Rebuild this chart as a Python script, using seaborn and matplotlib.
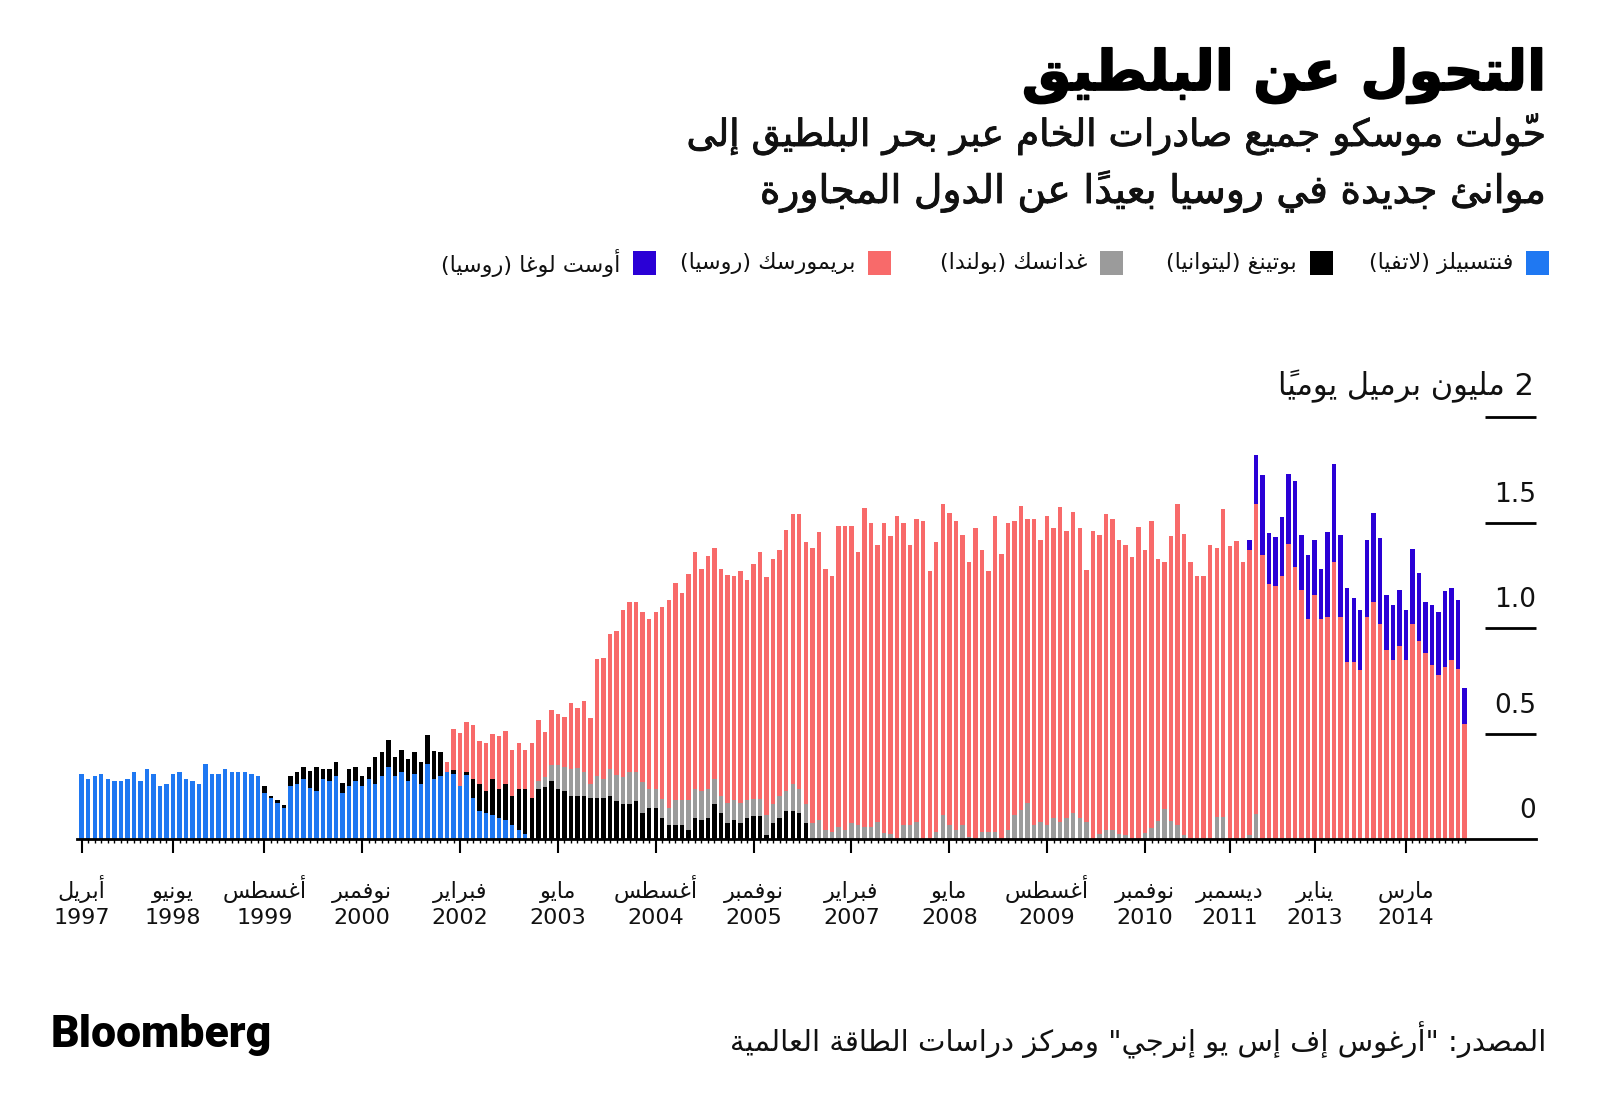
import numpy as np
import pandas as pd
import matplotlib
matplotlib.use("Agg")
import matplotlib.pyplot as plt
import matplotlib.patheffects as pe
from matplotlib.patches import Rectangle
from matplotlib.transforms import blended_transform_factory
import seaborn as sns

# ---------------- DATA (million barrels per day, monthly Apr 1997 - Dec 2014) ----------------
ventspils = [
    0.310, 0.288, 0.298, 0.310, 0.288, 0.276, 0.276, 0.288, 0.321, 0.276,
    0.333, 0.310, 0.252, 0.264, 0.310, 0.321, 0.288, 0.276, 0.264, 0.355,
    0.310, 0.310, 0.333, 0.321, 0.321, 0.321, 0.310, 0.298, 0.219, 0.196,
    0.173, 0.149, 0.252, 0.264, 0.287, 0.241, 0.230, 0.287, 0.276, 0.298,
    0.219, 0.252, 0.276, 0.252, 0.287, 0.264, 0.298, 0.344, 0.298, 0.321,
    0.276, 0.310, 0.264, 0.358, 0.285, 0.298, 0.318, 0.309, 0.252, 0.307,
    0.195, 0.136, 0.125, 0.114, 0.103, 0.092, 0.070, 0.046, 0.024,
] + [0.0] * 144

butinge = [0.0] * 28 + [
    0.033, 0.011, 0.011, 0.013, 0.046, 0.057, 0.057, 0.081, 0.114, 0.046, 0.057, 0.070,
    0.046, 0.081, 0.068, 0.046, 0.057, 0.125, 0.116, 0.127, 0.092, 0.103,
    0.103, 0.103, 0.103, 0.135, 0.135, 0.114, 0.000, 0.020, 0.000, 0.010,
    0.090, 0.125, 0.103, 0.171, 0.136, 0.169, 0.136, 0.193, 0.215, 0.195,
    0.239, 0.250, 0.274, 0.239, 0.228, 0.206, 0.206, 0.206, 0.195, 0.195,
    0.195, 0.204, 0.181, 0.169, 0.169, 0.181, 0.124, 0.147, 0.147, 0.101,
    0.067, 0.067, 0.067, 0.044, 0.101, 0.090, 0.101, 0.169, 0.124, 0.079,
    0.090, 0.079, 0.101, 0.112, 0.112, 0.022, 0.079, 0.101, 0.136, 0.136,
    0.124, 0.078,
] + [0.0] * 101

gdansk = [0.0] * 70 + [
    0.035, 0.046, 0.079, 0.114, 0.114, 0.125, 0.133, 0.112, 0.068, 0.103,
    0.090, 0.130, 0.126, 0.126, 0.149, 0.137, 0.148, 0.092, 0.092, 0.092,
    0.080, 0.117, 0.117, 0.140, 0.138, 0.138, 0.138, 0.118, 0.079, 0.092,
    0.094, 0.092, 0.083, 0.080, 0.081, 0.092, 0.089, 0.103, 0.092, 0.125,
    0.115, 0.091, 0.078, 0.090, 0.046, 0.035, 0.059, 0.046, 0.078, 0.068,
    0.059, 0.059, 0.082, 0.030, 0.024, 0.000, 0.070, 0.070, 0.081, 0.000,
    0.000, 0.035, 0.114, 0.070, 0.046, 0.070, 0.011, 0.000, 0.035, 0.035,
    0.035, 0.000, 0.046, 0.114, 0.138, 0.173, 0.070, 0.081, 0.070, 0.103,
    0.081, 0.103, 0.125, 0.103, 0.081, 0.000, 0.027, 0.046, 0.046, 0.027,
    0.019, 0.000, 0.000, 0.029, 0.052, 0.089, 0.144, 0.089, 0.068, 0.021,
    0.000, 0.000, 0.000, 0.000, 0.108, 0.108, 0.000, 0.000, 0.000, 0.021,
    0.120,
] + [0.0] * 32

primorsk = [0.0] * 56 + [
    0.048, 0.195, 0.252, 0.237,
    0.258, 0.203, 0.228, 0.212, 0.252, 0.252, 0.217, 0.217, 0.182, 0.261,
    0.293, 0.212, 0.260, 0.239, 0.239, 0.315, 0.285, 0.339, 0.313, 0.556,
    0.572, 0.640, 0.678, 0.793, 0.805, 0.805, 0.805, 0.803, 0.838, 0.906,
    0.987, 1.029, 0.985, 1.075, 1.124, 1.053, 1.104, 1.093, 1.078, 1.082,
    1.064, 1.101, 1.043, 1.113, 1.167, 1.129, 1.159, 1.169, 1.237, 1.283,
    1.305, 1.240, 1.303, 1.365, 1.235, 1.214, 1.428, 1.441, 1.409, 1.295,
    1.509, 1.441, 1.315, 1.470, 1.415, 1.531, 1.430, 1.327, 1.439, 1.508,
    1.273, 1.374, 1.474, 1.476, 1.463, 1.371, 1.305, 1.476, 1.338, 1.235,
    1.498, 1.351, 1.452, 1.395, 1.442, 1.347, 1.450, 1.338, 1.463, 1.373,
    1.496, 1.360, 1.428, 1.373, 1.197, 1.463, 1.414, 1.498, 1.474, 1.393,
    1.378, 1.336, 1.482, 1.344, 1.457, 1.238, 1.172, 1.349, 1.520, 1.425,
    1.316, 1.249, 1.249, 1.395, 1.273, 1.457, 1.392, 1.416, 1.316, 1.349,
    1.470, 1.346, 1.210, 1.200, 1.248, 1.398, 1.292, 1.181, 1.042, 1.159,
    1.042, 1.055, 1.316, 1.053, 0.838, 0.838, 0.803, 1.055, 1.123, 1.021,
    0.895, 0.849, 0.917, 0.849, 1.021, 0.939, 0.884, 0.827, 0.779, 0.816,
    0.849, 0.808, 0.545,
]

ust_luga = [0.0] * 179 + [
    0.047, 0.233, 0.382, 0.241, 0.233, 0.280, 0.333, 0.407, 0.262, 0.304, 0.260,
    0.239, 0.403, 0.461, 0.390, 0.351, 0.304, 0.285, 0.364, 0.423, 0.409,
    0.263, 0.263, 0.263, 0.239, 0.353, 0.321, 0.239, 0.285, 0.298, 0.362,
    0.342, 0.324, 0.172,
]

tick_idx = [0, 14, 28, 43, 58, 73, 88, 103, 118, 133, 148, 163, 176, 189, 203]
tick_months = ["أبريل", "يونيو", "أغسطس", "نوفمبر", "فبراير", "مايو", "أغسطس", "نوفمبر",
               "فبراير", "مايو", "أغسطس", "نوفمبر", "ديسمبر", "يناير", "مارس"]
tick_years = ["1997", "1998", "1999", "2000", "2002", "2003", "2004", "2005",
              "2007", "2008", "2009", "2010", "2011", "2013", "2014"]

series_names = ["فنتسبيلز (لاتفيا)", "بوتينغ (ليتوانيا)", "غدانسك (بولندا)",
                "بريمورسك (روسيا)", "أوست لوغا (روسيا)"]
series_colors = ["#1f78f2", "#000000", "#9b9b9b", "#f86a6a", "#2a00d6"]

y_levels = [0.5, 1.0, 1.5, 2.0]
y_label_vals = [0.0, 0.5, 1.0, 1.5]
y_labels = ["0", "0.5", "1.0", "1.5"]

title = "التحول عن البلطيق"
subtitle1 = "حوّلت موسكو جميع صادرات الخام عبر بحر البلطيق إلى"
subtitle2 = "موانئ جديدة في روسيا بعيداً عن الدول المجاورة"
unit_label = "2 مليون برميل يومياً"
source = 'المصدر: "أرغوس إف إس يو إنرجي" ومركز دراسات الطاقة العالمية'

# ---------------- Arabic shaping (matplotlib has no complex text layout) ----------------
_AR = {
    0x0621: (0xFE80, None, None, None), 0x0622: (0xFE81, 0xFE82, None, None),
    0x0623: (0xFE83, 0xFE84, None, None), 0x0624: (0xFE85, 0xFE86, None, None),
    0x0625: (0xFE87, 0xFE88, None, None), 0x0626: (0xFE89, 0xFE8A, 0xFE8B, 0xFE8C),
    0x0627: (0xFE8D, 0xFE8E, None, None), 0x0628: (0xFE8F, 0xFE90, 0xFE91, 0xFE92),
    0x0629: (0xFE93, 0xFE94, None, None), 0x062A: (0xFE95, 0xFE96, 0xFE97, 0xFE98),
    0x062B: (0xFE99, 0xFE9A, 0xFE9B, 0xFE9C), 0x062C: (0xFE9D, 0xFE9E, 0xFE9F, 0xFEA0),
    0x062D: (0xFEA1, 0xFEA2, 0xFEA3, 0xFEA4), 0x062E: (0xFEA5, 0xFEA6, 0xFEA7, 0xFEA8),
    0x062F: (0xFEA9, 0xFEAA, None, None), 0x0630: (0xFEAB, 0xFEAC, None, None),
    0x0631: (0xFEAD, 0xFEAE, None, None), 0x0632: (0xFEAF, 0xFEB0, None, None),
    0x0633: (0xFEB1, 0xFEB2, 0xFEB3, 0xFEB4), 0x0634: (0xFEB5, 0xFEB6, 0xFEB7, 0xFEB8),
    0x0635: (0xFEB9, 0xFEBA, 0xFEBB, 0xFEBC), 0x0636: (0xFEBD, 0xFEBE, 0xFEBF, 0xFEC0),
    0x0637: (0xFEC1, 0xFEC2, 0xFEC3, 0xFEC4), 0x0638: (0xFEC5, 0xFEC6, 0xFEC7, 0xFEC8),
    0x0639: (0xFEC9, 0xFECA, 0xFECB, 0xFECC), 0x063A: (0xFECD, 0xFECE, 0xFECF, 0xFED0),
    0x0641: (0xFED1, 0xFED2, 0xFED3, 0xFED4), 0x0642: (0xFED5, 0xFED6, 0xFED7, 0xFED8),
    0x0643: (0xFED9, 0xFEDA, 0xFEDB, 0xFEDC), 0x0644: (0xFEDD, 0xFEDE, 0xFEDF, 0xFEE0),
    0x0645: (0xFEE1, 0xFEE2, 0xFEE3, 0xFEE4), 0x0646: (0xFEE5, 0xFEE6, 0xFEE7, 0xFEE8),
    0x0647: (0xFEE9, 0xFEEA, 0xFEEB, 0xFEEC), 0x0648: (0xFEED, 0xFEEE, None, None),
    0x0649: (0xFEEF, 0xFEF0, None, None), 0x064A: (0xFEF1, 0xFEF2, 0xFEF3, 0xFEF4),
}
_LAMALEF = {0x0622: (0xFEF5, 0xFEF6), 0x0623: (0xFEF7, 0xFEF8),
            0x0625: (0xFEF9, 0xFEFA), 0x0627: (0xFEFB, 0xFEFC)}
_MIRROR = {"(": ")", ")": "(", "[": "]", "]": "[", "«": "»", "»": "«"}


def _is_mark(c):
    o = ord(c)
    return 0x064B <= o <= 0x0652 or o == 0x0670


def _joins_next(b):
    return isinstance(b, str) and ord(b) in _AR and _AR[ord(b)][2] is not None


def _joins_prev(b):
    if isinstance(b, tuple):
        return True
    return ord(b) in _AR and _AR[ord(b)][1] is not None


def _shape_line(s):
    clusters = []
    for c in s:
        if _is_mark(c) and clusters:
            clusters[-1][1].append(c)
        else:
            clusters.append([c, []])
    merged = []
    k = 0
    while k < len(clusters):
        b, m = clusters[k]
        if ord(b) == 0x0644 and k + 1 < len(clusters) and ord(clusters[k + 1][0]) in _LAMALEF:
            merged.append([("LA", clusters[k + 1][0]), m + clusters[k + 1][1]])
            k += 2
        else:
            merged.append([b, m])
            k += 1
    out = []
    for k, (b, m) in enumerate(merged):
        p = k > 0 and _joins_next(merged[k - 1][0]) and _joins_prev(b)
        n = k + 1 < len(merged) and _joins_next(b) and _joins_prev(merged[k + 1][0])
        if isinstance(b, tuple):
            iso, fin = _LAMALEF[ord(b[1])]
            g = chr(fin if p else iso)
            ltr = False
        elif ord(b) in _AR:
            iso, fin, ini, med = _AR[ord(b)]
            if p and n:
                g = chr(med)
            elif p:
                g = chr(fin)
            elif n:
                g = chr(ini)
            else:
                g = chr(iso)
            ltr = False
        else:
            g = b
            ltr = b.isascii() and (b.isalnum() or b == ".")
        out.append((g + "".join(m), ltr))
    runs = []
    for g, ltr in out:
        if ltr and runs and runs[-1][1]:
            runs[-1][0].append(g)
        else:
            runs.append(([g], ltr))
    vis = []
    for glyphs, ltr in reversed(runs):
        if ltr:
            vis.extend(glyphs)
        else:
            vis.extend(_MIRROR.get(x, x) for x in glyphs)
    return "".join(vis)


def ar(s):
    return "\n".join(_shape_line(l) for l in s.split("\n"))


# ---------------- FIGURE ----------------
sns.set_theme(style="white")
plt.rcParams["font.family"] = ["DejaVu Sans"]

W, H = 1600, 1111
fig = plt.figure(figsize=(16, 11.11), dpi=100)
fig.patch.set_facecolor("white")


def fx(x):
    return x / W


def fy(y):
    return 1 - y / H


n = len(primorsk)
PX_PER_UNIT = 211.0
y0 = 839.3
ymax = 2.05
ax = fig.add_axes([fx(77), fy(y0), (1536 - 77) / W, ymax * PX_PER_UNIT / H])
ax.set_facecolor("white")

df = pd.DataFrame({"idx": np.arange(n), "v": ventspils, "b": butinge,
                   "g": gdansk, "p": primorsk, "u": ust_luga})

bottom = np.zeros(n)
for col, color in zip(["v", "b", "g", "p", "u"], series_colors):
    sns.barplot(data=df, x="idx", y=col, bottom=bottom.copy(), color=color,
                saturation=1, width=0.68, native_scale=True, errorbar=None,
                linewidth=0, edgecolor="none", ax=ax)
    bottom += df[col].values

ax.set_xlim(-0.72, 222.94)
ax.set_ylim(0, ymax)
for s in ["top", "right", "left"]:
    ax.spines[s].set_visible(False)
ax.spines["bottom"].set_color("black")
ax.spines["bottom"].set_linewidth(2)
ax.set_xlabel("")
ax.set_ylabel("")
ax.set_yticks([])
ax.grid(False)

ax.set_xticks(tick_idx)
ax.set_xticklabels([""] * len(tick_idx))
ax.set_xticks(np.arange(n), minor=True)
ax.tick_params(axis="x", which="major", length=10, width=1.5, color="black",
               direction="out", bottom=True)
ax.tick_params(axis="x", which="minor", length=3, width=1, color="black",
               direction="out", bottom=True)

# tick labels (month above year), baseline-aligned
tr = blended_transform_factory(ax.transData, fig.transFigure)
for i, m, yr in zip(tick_idx, tick_months, tick_years):
    ax.text(i, fy(898), ar(m), transform=tr, ha="center", va="baseline",
            fontsize=16, color="#111111")
    ax.text(i, fy(924), yr, transform=tr, ha="center", va="baseline",
            fontsize=16, color="#111111")

# right-hand short gridline marks and labels
ax.hlines(y_levels, 215.1, 222.94, colors="black", linewidth=2, clip_on=False)
for v, lab in zip(y_label_vals, y_labels):
    ax.text(222.94, v + 0.10, lab, ha="right", va="baseline", fontsize=19,
            color="#111111")
fig.text(fx(1534), fy(395), ar(unit_label), ha="right", va="baseline",
         fontsize=22, color="#111111")

# title / subtitle
fig.text(fx(1546), fy(90), ar(title), ha="right", va="baseline", fontsize=40,
         fontweight="bold", color="#000000",
         path_effects=[pe.withStroke(linewidth=1.2, foreground="#000000")])
medium = [pe.withStroke(linewidth=0.6, foreground="#111111")]
fig.text(fx(1546), fy(146), ar(subtitle1), ha="right", va="baseline", fontsize=27,
         color="#111111", path_effects=medium)
fig.text(fx(1546), fy(203), ar(subtitle2), ha="right", va="baseline", fontsize=28.3,
         color="#111111", path_effects=medium)

# legend (right to left)
sq_right = [1549, 1333, 1123, 891, 656]
sq = 23
for name, color, r in zip(series_names, series_colors, sq_right):
    fig.patches.append(Rectangle((fx(r - sq), fy(263 + sq / 2)), sq / W, sq / H,
                                 transform=fig.transFigure, facecolor=color,
                                 edgecolor="none"))
    fig.text(fx(r - sq - 13), fy(263), ar(name), ha="right", va="center",
             fontsize=16, color="#111111")

# footer
fig.text(fx(51), fy(1047), "Bloomberg", ha="left", va="baseline", fontsize=32,
         fontweight="black", family="Roboto", color="#000000")
fig.text(fx(1546), fy(1051), ar(source), ha="right", va="baseline", fontsize=21,
         color="#111111")

fig.savefig("out.png", dpi=100, facecolor="white")
